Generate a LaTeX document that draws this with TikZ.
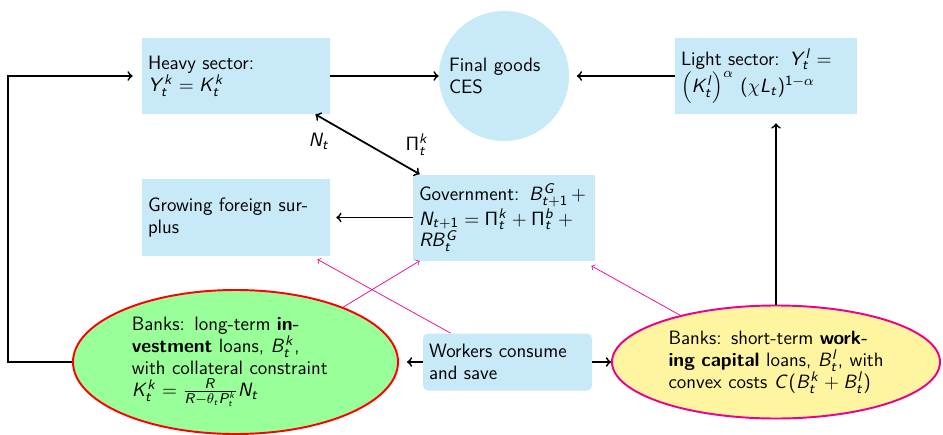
\documentclass[tikz,border=0pt]{standalone}
\usetikzlibrary{shapes.geometric}
\definecolor{boxblue}{RGB}{199,233,248}
\definecolor{bankgreen}{RGB}{153,255,153}
\definecolor{bankyellow}{RGB}{255,245,160}
\definecolor{flowpink}{RGB}{236,0,140}
% 无衬线数学字母
\DeclareSymbolFont{sfletters}{OT1}{cmss}{m}{sl}
\SetSymbolFont{operators}{normal}{OT1}{cmss}{m}{n}
\makeatletter
\count@=`A \loop \mathcode\count@=\numexpr"7000+\symsfletters*"100+\count@\relax \advance\count@ 1 \ifnum\count@<`[ \repeat
\count@=`a \loop \mathcode\count@=\numexpr"7000+\symsfletters*"100+\count@\relax \advance\count@ 1 \ifnum\count@<`\{ \repeat
\makeatother

\begin{document}
\begin{tikzpicture}[>=to, font=\fontsize{11}{12.5}\selectfont\sffamily,
		blockbox/.style={fill=boxblue, inner sep=0.12cm, align=left},
		bankoval/.style={ellipse, line width=1.1pt, inner sep=0pt, align=left},
		arr/.style={->, line width=1pt},
		pinkarr/.style={->, flowpink}]
				\useasboundingbox (0,0) rectangle (18.86,8.68);
				
				% 生产部门
				\node[blockbox, text width=3.52cm, minimum height=1.52cm] (heavy) at (4.72,7.16) {Heavy sector:\\ $Y_t^k = K_t^k$};
				\node[circle, fill=boxblue, inner sep=0pt, minimum size=2.6cm, text width=2.2cm, align=left] (final) at (10.08,7.16) {Final goods\\CES};
				\node[blockbox, text width=3.40cm, minimum height=1.52cm] (light) at (15.32,7.16) {Light sector: $Y_t^l = {}$\\ $\left(K_t^l\right)^{\alpha} \, (\chi L_t)^{1-\alpha}$};
				
				% 政府与外部
				\node[blockbox, text width=3.52cm, minimum height=1.54cm] (foreign) at (4.72,4.33) {Growing foreign sur-\\plus};
				\node[blockbox, text width=3.40cm, minimum height=1.72cm] (gov) at (10.08,4.33) {Government: $B_{t+1}^G + {}$\\ $N_{t+1} = \Pi_t^k + \Pi_t^b + {}$\\ $RB_t^G$};
				
				% 工人与银行
				\node[blockbox, rounded corners=0.1cm, text width=3.14cm, minimum height=1.14cm] (workers) at (10.15,1.44) {Workers consume\\and save};
				\node[bankoval, draw=red, fill=bankgreen, minimum width=6.5cm, minimum height=2.88cm, text width=4.15cm] (longbank) at (4.71,1.44) {Banks: long-term \textbf{in-}\\\textbf{vestment} loans, $B_t^k$,\\with collateral constraint\\$K_t^k = \frac{R}{R-\theta_t P_t^k} N_t$};
				\node[bankoval, draw=flowpink, fill=bankyellow, minimum width=6.56cm, minimum height=2.26cm, text width=4.3cm] (shortbank) at (15.52,1.44) {Banks: short-term \textbf{work-}\\\textbf{ing capital} loans, $B_t^l$, with\\convex costs $C(B_t^k + B_t^l)$};
				
				% 主要流向
				\draw[arr] (heavy) -- (final);
				\draw[arr, shorten >=0.15cm] (light) -- (final);
				\draw[arr, shorten >=0.18cm] (longbank.west) -- ++(-1.28,0) |- (heavy.west);
				\draw[arr, <->] ([xshift=-0.3cm]heavy.south east) -- ([xshift=0.14cm]gov.north west) node[pos=0.2, below left] {$N_t$} node[pos=0.8, above right] {$\Pi_t^k$};
				\draw[arr, shorten >=0.12cm] (gov) -- (foreign);
				\draw[arr, shorten >=0.16cm] (workers) -- (longbank);
				\draw[arr] (workers) -- (shortbank);
				\draw[arr, shorten >=0.18cm] (shortbank.north) -- (shortbank.north |- light.south);
				
				% 细箭头
				\draw[pinkarr] (longbank.27) -- ([xshift=0.14cm]gov.south west);
				\draw[pinkarr] ([xshift=0.56cm]workers.north west) -- ([xshift=-0.26cm,yshift=-0.06cm]foreign.south east);
				\draw[pinkarr] (shortbank.154) -- ([xshift=-0.08cm,yshift=-0.1cm]gov.south east);
			\end{tikzpicture}
\end{document}
